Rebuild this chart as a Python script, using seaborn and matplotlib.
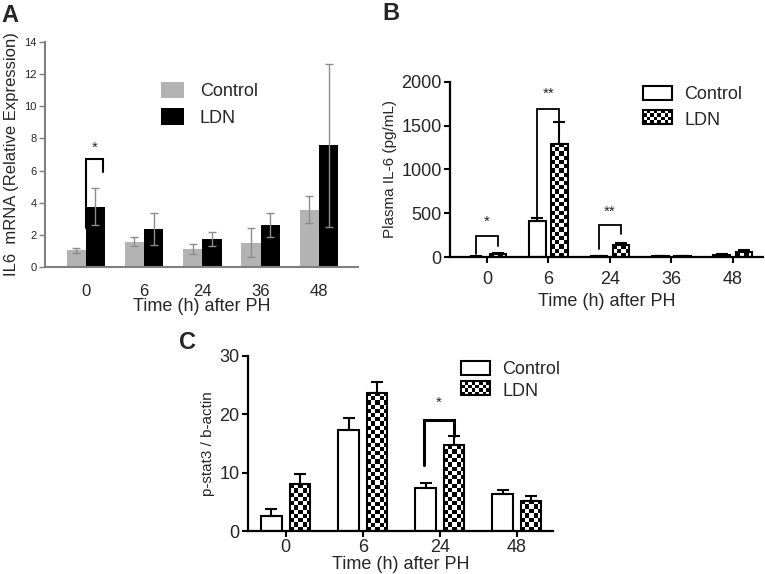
import numpy as np
import pandas as pd
import matplotlib
matplotlib.use('Agg')
import matplotlib.pyplot as plt
import seaborn as sns
from matplotlib.patches import Patch, Rectangle
from matplotlib.legend_handler import HandlerBase

# panel A: IL6 mRNA
times_a = ['0', '6', '24', '36', '48']
ctrl_a = [1.04, 1.57, 1.14, 1.52, 3.57]
ctrl_a_err = [0.14, 0.29, 0.31, 0.88, 0.86]
ldn_a = [3.75, 2.39, 1.72, 2.62, 7.57]
ldn_a_err = [1.15, 1.0, 0.43, 0.73, 5.05]

# panel B: plasma IL-6
times_b = ['0', '6', '24', '36', '48']
ctrl_b = [5, 411, 10, 10, 24]
ctrl_b_err = [3, 38, 3, 3, 6]
ldn_b = [30, 1295, 133, 10, 60]
ldn_b_err = [12, 248, 27, 3, 22]

# panel C: p-stat3 / b-actin
times_c = ['0', '6', '24', '48']
ctrl_c = [2.6, 17.4, 7.45, 6.3]
ctrl_c_err = [1.2, 1.9, 0.8, 0.8]
ldn_c = [8.0, 23.7, 14.7, 5.15]
ldn_c_err = [1.7, 1.9, 1.6, 0.8]

# significance brackets: (group, left y, top y, right y, stars, star y)
brackets_a = [(0, 2.4, 6.7, 5.9, '*', 7.4)]
brackets_b = [(0, 40, 245, 125, '*', 400), (1, 440, 1690, 1543, '**', 1860),
              (2, 95, 370, 267, '**', 520)]
brackets_c = [(2, 11.3, 19.1, 16.3, '*', 22.0)]

sns.set_style('white')
plt.rcParams['font.family'] = ['Liberation Sans', 'DejaVu Sans']


def long_df(times, ctrl, ldn):
    return pd.DataFrame({'time': times * 2, 'value': ctrl + ldn,
                         'group': ['Control'] * len(times) + ['LDN'] * len(times)})


def add_err(ax, cont, errs, up_only, color, lw, cap):
    xs = [b.get_x() + b.get_width() / 2 for b in cont]
    ys = [b.get_height() for b in cont]
    if up_only:
        yerr = [np.zeros(len(errs)), errs]
    else:
        yerr = errs
    ax.errorbar(xs, ys, yerr=yerr, fmt='none', ecolor=color, elinewidth=lw,
                capsize=cap, capthick=lw, zorder=1)


def checker(ax, cont, size=4.2):
    for p in cont:
        bb = p.get_window_extent()
        nc = max(1, int(round(bb.width / size)))
        nr = max(1, int(round(bb.height / size)))
        img = np.indices((nr, nc)).sum(0) % 2
        im = ax.imshow(img, extent=(p.get_x(), p.get_x() + p.get_width(), 0, p.get_height()),
                       cmap='gray', vmin=0, vmax=1, interpolation='nearest',
                       aspect='auto', origin='lower', zorder=2)
        im.set_clip_path(p)
        p.set_facecolor('none')
        p.set_zorder(3)


class CheckerHandler(HandlerBase):
    def create_artists(self, legend, orig, xd, yd, w, h, fontsize, trans):
        arts = [Rectangle((xd, yd), w, h, fc='white', ec='none', transform=trans)]
        nc, nr = 8, 4
        for i in range(nr):
            for j in range(nc):
                if (i + j) % 2 == 0:
                    arts.append(Rectangle((xd + j * w / nc, yd + i * h / nr), w / nc, h / nr,
                                          fc='black', ec='none', transform=trans))
        arts.append(Rectangle((xd, yd), w, h, fc='none', ec='black', lw=1.5, transform=trans))
        return arts


def draw_brackets(ax, brackets, dl, dr, lw, fs):
    for g, yl, yt, yr, s, ys in brackets:
        ax.plot([g + dl, g + dl, g + dr, g + dr], [yl, yt, yt, yr], color='black', lw=lw,
                solid_joinstyle='miter', zorder=4)
        ax.text(g + (dl + dr) / 2, ys, s, ha='center', va='center', fontsize=fs)


fig = plt.figure(figsize=(7.65, 5.74), dpi=100)
axA = fig.add_axes([45 / 765, 1 - 267 / 574, 313 / 765, 225 / 574])
axB = fig.add_axes([450 / 765, 1 - 257 / 574, 313 / 765, 175 / 574])
axC = fig.add_axes([248 / 765, 1 - 531 / 574, 305 / 765, 175 / 574])

# ---- A
sns.barplot(data=long_df(times_a, ctrl_a, ldn_a), x='time', y='value', hue='group',
            palette=['#b3b3b3', 'black'], width=0.66, gap=0, errorbar=None,
            saturation=1, linewidth=0, legend=False, ax=axA)
add_err(axA, axA.containers[0], ctrl_a_err, False, '#8c8c8c', 1.0, 3)
add_err(axA, axA.containers[1], ldn_a_err, False, '#8c8c8c', 1.0, 3)
axA.set_xlim(-0.70, 4.67)
axA.set_ylim(0, 14)
axA.set_yticks(range(0, 15, 2))
draw_brackets(axA, brackets_a, 0.0, 0.29, 1.5, 11)
for s in ['top', 'right']:
    axA.spines[s].set_visible(False)
for s in ['left', 'bottom']:
    axA.spines[s].set_color('#7f7f7f')
    axA.spines[s].set_linewidth(1.5)
axA.tick_params(axis='y', left=True, length=4, width=1, color='#7f7f7f', labelsize=8, pad=2)
axA.tick_params(axis='x', bottom=False, labelsize=12, pad=9)
axA.set_xlabel('Time (h) after PH', fontsize=13, labelpad=-1)
axA.set_ylabel('IL6  mRNA (Relative Expression)', fontsize=12, labelpad=4)
axA.legend(handles=[Patch(fc='#b3b3b3', ec='none', label='Control'),
                    Patch(fc='black', ec='none', label='LDN')],
           loc='upper left', bbox_to_anchor=(161 / 765, 1 - 82 / 574),
           bbox_transform=fig.transFigure, frameon=False, fontsize=13,
           handlelength=1.25, handleheight=1.0, handletextpad=0.9,
           labelspacing=0.45, borderpad=0, borderaxespad=0)


def style_bc(ax, xpad):
    for s in ['top', 'right']:
        ax.spines[s].set_visible(False)
    for s in ['left', 'bottom']:
        ax.spines[s].set_color('black')
        ax.spines[s].set_linewidth(1.6)
    ax.tick_params(axis='y', left=True, length=4, width=1.5, color='black', labelsize=13, pad=2)
    ax.tick_params(axis='x', bottom=True, length=4, width=1.5, color='black', labelsize=13, pad=xpad)


leg_handles = [Patch(fc='white', ec='black', lw=1.5, label='Control'),
               Patch(fc='white', ec='black', label='LDN')]

# ---- B
sns.barplot(data=long_df(times_b, ctrl_b, ldn_b), x='time', y='value', hue='group',
            palette=['white', 'white'], edgecolor='black', width=0.72, gap=0.25,
            errorbar=None, saturation=1, linewidth=1.5, legend=False, ax=axB)
axB.set_xlim(-0.60, 4.49)
axB.set_ylim(0, 2000)
axB.set_yticks(range(0, 2001, 500))
add_err(axB, axB.containers[0], ctrl_b_err, True, 'black', 1.5, 4)
add_err(axB, axB.containers[1], ldn_b_err, True, 'black', 1.5, 4)
checker(axB, axB.containers[1])
axB.set_xlim(-0.60, 4.49)
axB.set_ylim(0, 2000)
draw_brackets(axB, brackets_b, -0.18, 0.18, 1.3, 11)
style_bc(axB, 6)
axB.set_xlabel('Time (h) after PH', fontsize=13, labelpad=4)
axB.set_ylabel('Plasma IL-6 (pg/mL)', fontsize=11, labelpad=3)
axB.legend(handles=leg_handles, handler_map={leg_handles[1]: CheckerHandler()},
           loc='upper left', bbox_to_anchor=(643 / 765, 1 - 86 / 574),
           bbox_transform=fig.transFigure, frameon=False, fontsize=13,
           handlelength=1.6, handleheight=0.85, handletextpad=0.7,
           labelspacing=0.45, borderpad=0, borderaxespad=0)

# ---- C
sns.barplot(data=long_df(times_c, ctrl_c, ldn_c), x='time', y='value', hue='group',
            palette=['white', 'white'], edgecolor='black', width=0.74, gap=0.28,
            errorbar=None, saturation=1, linewidth=1.5, legend=False, ax=axC)
axC.set_xlim(-0.49, 3.47)
axC.set_ylim(0, 30)
axC.set_yticks(range(0, 31, 10))
add_err(axC, axC.containers[0], ctrl_c_err, True, 'black', 1.5, 4)
add_err(axC, axC.containers[1], ldn_c_err, True, 'black', 1.5, 4)
checker(axC, axC.containers[1])
axC.set_xlim(-0.49, 3.47)
axC.set_ylim(0, 30)
draw_brackets(axC, brackets_c, -0.21, 0.18, 2.2, 11)
style_bc(axC, 1.5)
axC.set_xlabel('Time (h) after PH', fontsize=13, labelpad=0)
axC.set_ylabel('p-stat3 / b-actin', fontsize=11, labelpad=3)
axC.legend(handles=leg_handles, handler_map={leg_handles[1]: CheckerHandler()},
           loc='upper left', bbox_to_anchor=(461 / 765, 1 - 361 / 574),
           bbox_transform=fig.transFigure, frameon=False, fontsize=13,
           handlelength=1.6, handleheight=0.8, handletextpad=0.7,
           labelspacing=0.25, borderpad=0, borderaxespad=0)

fig.text(1 / 765, 1 - 4 / 574, 'A', fontsize=17, fontweight='bold', va='top', ha='left')
fig.text(382 / 765, 1 - 2 / 574, 'B', fontsize=17, fontweight='bold', va='top', ha='left')
fig.text(179 / 765, 1 - 331 / 574, 'C', fontsize=17, fontweight='bold', va='top', ha='left')

fig.savefig('out.png', dpi=100)
